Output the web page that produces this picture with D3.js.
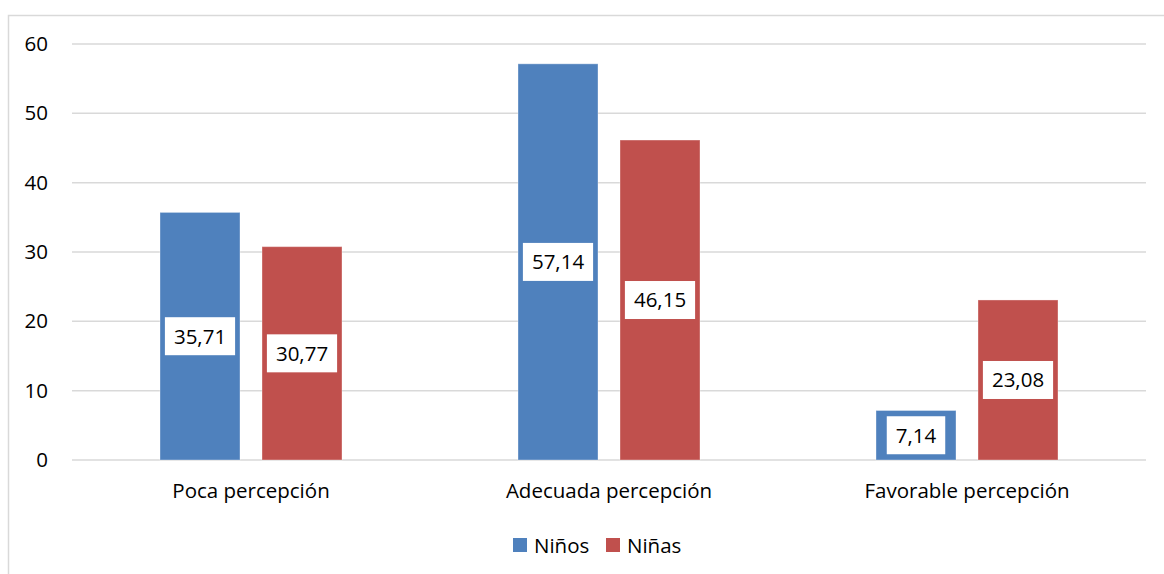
<!DOCTYPE html>
<html>
<head>
<meta charset="utf-8">
<script src="https://cdn.jsdelivr.net/npm/d3@7"></script>
<style>
  html, body { margin: 0; padding: 0; background: #fff; }
  svg { display: block; font-family: "Open Sans", "Liberation Sans", Arial, sans-serif; }
</style>
</head>
<body>
<svg id="chart" width="1164" height="574"></svg>
<script>
const categories = ["Poca percepción", "Adecuada percepción", "Favorable percepción"];
const seriesNames = ["Niños", "Niñas"];
const ninos = [35.71, 57.14, 7.14];
const ninas = [30.77, 46.15, 23.08];
const yTicks = [0, 10, 20, 30, 40, 50, 60];
const colors = ["#4F81BD", "#C0504D"];

const FONT = "Open Sans, Liberation Sans, Arial, sans-serif";
const fmt = v => v.toFixed(2).replace(".", ",");
const svg = d3.select("#chart");

// outer chart border
svg.append("path")
  .attr("d", "M8.5,600 L8.5,15.5 L1200,15.5")
  .attr("fill", "none").attr("stroke", "#d9d9d9").attr("stroke-width", 1.5);

const x0 = d3.scaleBand().domain(categories).range([72, 1146]).padding(0);
const groupW = 182;
const x1 = d3.scaleBand().domain(seriesNames).range([0, groupW]).paddingInner(0.2157).paddingOuter(0);
const y = d3.scaleLinear().domain([0, 60]).range([460, 44]);

// gridlines
svg.append("g").selectAll("line").data(yTicks).join("line")
  .attr("x1", 72).attr("x2", 1146)
  .attr("y1", d => y(d)).attr("y2", d => y(d))
  .attr("stroke", "#d9d9d9").attr("stroke-width", 1.5);

// y axis labels
const yAxis = d3.axisLeft(y).tickValues(yTicks).tickSize(0).tickPadding(0);
const gy = svg.append("g").attr("transform", "translate(48,0)").call(yAxis);
gy.select(".domain").remove();
gy.selectAll("text").attr("font-size", 20.5).attr("fill", "#000").attr("font-family", FONT);

// x axis labels
const xAxis = d3.axisBottom(x0).tickSize(0).tickPadding(0);
const gx = svg.append("g").attr("transform", "translate(0,483)").call(xAxis);
gx.select(".domain").remove();
gx.selectAll("text").attr("font-size", 20.5).attr("fill", "#000").attr("font-family", FONT);

const data = categories.map((c, i) => ({ cat: c, vals: [
  { s: seriesNames[0], v: ninos[i], c: colors[0] },
  { s: seriesNames[1], v: ninas[i], c: colors[1] }
]}));

const groups = svg.append("g").selectAll("g").data(data).join("g")
  .attr("transform", d => `translate(${x0(d.cat) + x0.bandwidth() / 2 - groupW / 2},0)`);

groups.selectAll("rect").data(d => d.vals).join("rect")
  .attr("x", d => x1(d.s)).attr("width", x1.bandwidth())
  .attr("y", d => y(d.v)).attr("height", d => y(0) - y(d.v))
  .attr("fill", d => d.c)
  .attr("stroke", "rgba(255,255,255,0.35)").attr("stroke-width", 1);

// data labels
const lab = groups.selectAll("g.lab").data(d => d.vals).join("g").attr("class", "lab")
  .attr("transform", d => `translate(${x1(d.s) + x1.bandwidth() / 2},${(y(d.v) + y(0)) / 2})`);
const bg = lab.append("rect").attr("fill", "#fff");
const tx = lab.append("text").attr("text-anchor", "middle").attr("dy", "0.36em")
  .attr("font-size", 20.5).attr("fill", "#000").attr("font-family", FONT).text(d => fmt(d.v));
tx.each(function() {
  const w = this.getComputedTextLength();
  d3.select(this.parentNode).select("rect")
    .attr("x", -w / 2 - 9).attr("width", w + 18).attr("y", -19).attr("height", 38);
});

// legend
const legend = svg.append("g").attr("transform", "translate(513,538)");
const legX = [0, 93];
seriesNames.forEach((s, i) => {
  const g = legend.append("g").attr("transform", `translate(${legX[i]},0)`);
  g.append("rect").attr("width", 14).attr("height", 14).attr("fill", colors[i]);
  g.append("text").attr("x", 21).attr("y", 14.5).attr("font-size", 20.5).attr("fill", "#000")
    .attr("font-family", FONT).text(s);
});
</script>
</body>
</html>
